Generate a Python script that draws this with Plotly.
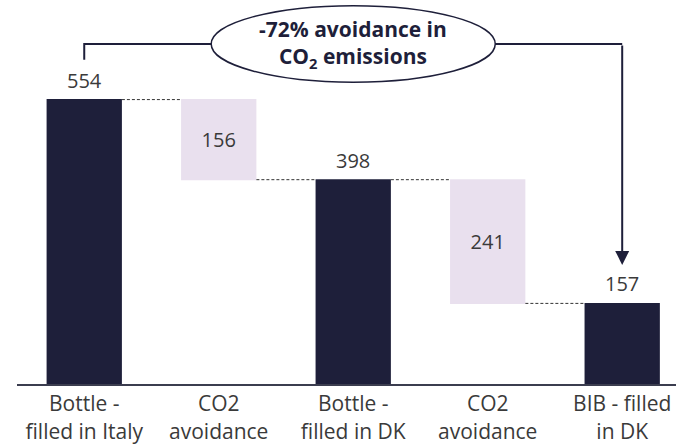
import plotly.graph_objects as go

# Data
categories = ["Bottle -<br>filled in Italy", "CO2<br>avoidance", "Bottle -<br>filled in DK",
              "CO2<br>avoidance", "BIB - filled<br>in DK"]
values = [554, -156, 398, -241, 157]
measures = ["absolute", "relative", "total", "relative", "total"]

NAVY = "#1e1f3a"
LAVENDER = "#e9e0ee"
TEXT = "#3a3a3a"
FONT = "Open Sans, sans-serif"

xpos = list(range(len(categories)))

# Running level of each bar (top of the solid bars)
levels = []
running = 0
for v, m in zip(values, measures):
    if m == "absolute":
        running = v
    elif m == "relative":
        running += v
    levels.append(running)

# Only the floating (relative) bars carry their label inside the bar
inner_labels = [str(abs(v)) if m == "relative" else "" for v, m in zip(values, measures)]

fig = go.Figure(go.Waterfall(
    x=xpos,
    y=values,
    measure=measures,
    text=inner_labels,
    texttemplate="%{text}",
    textposition="inside",
    insidetextanchor="middle",
    insidetextfont=dict(family=FONT, size=20, color=TEXT),
    constraintext="none",
    cliponaxis=False,
    increasing=dict(marker=dict(color=NAVY)),
    decreasing=dict(marker=dict(color=LAVENDER)),
    totals=dict(marker=dict(color=NAVY)),
    connector=dict(mode="between", line=dict(color="#333333", width=1, dash="3px,2px")),
    hoverinfo="skip",
))

# Value labels above the solid bars
for x, lvl, m in zip(xpos, levels, measures):
    if m != "relative":
        fig.add_annotation(x=x, y=lvl, xref="x", yref="y", text=str(lvl),
                           showarrow=False, yanchor="bottom", yshift=4,
                           font=dict(family=FONT, size=20, color=TEXT))

# Bracket from the first to the last bar, with the summary ellipse on top
bracket_y = 662.5
left_start = 631.5
arrow_tip = 232
fig.add_shape(type="path",
              path=f"M {xpos[0]},{left_start} L {xpos[0]},{bracket_y} L {xpos[-1]},{bracket_y}",
              xref="x", yref="y", line=dict(color=NAVY, width=2))
fig.add_annotation(x=xpos[-1], y=arrow_tip, ax=xpos[-1], ay=bracket_y,
                   xref="x", yref="y", axref="x", ayref="y",
                   showarrow=True, arrowhead=2, arrowsize=1.4, arrowwidth=2,
                   arrowcolor=NAVY, text="")
fig.add_shape(type="circle", xref="x", yref="y",
              x0=2 - 1.056, x1=2 + 1.056, y0=588, y1=737,
              line=dict(color=NAVY, width=1.5), fillcolor="white", layer="above")
fig.add_annotation(x=2, y=bracket_y, xref="x", yref="y", showarrow=False,
                   text="<b>-72% avoidance in<br>CO<sub>2</sub> emissions</b>",
                   font=dict(family=FONT, size=21, color=NAVY))

fig.update_layout(
    width=676, height=445,
    margin=dict(l=17, r=0, t=0, b=59),
    paper_bgcolor="white", plot_bgcolor="white",
    showlegend=False,
    waterfallgap=0.44,
    font=dict(family=FONT, size=20, color=TEXT),
    xaxis=dict(range=[-0.5, 4.4], tickvals=xpos, ticktext=categories,
               showline=True, linecolor="#3b3d4f", linewidth=2,
               showgrid=False, zeroline=False, ticks="",
               tickfont=dict(family=FONT, size=21, color=TEXT)),
    yaxis=dict(range=[0, 748], visible=False, showgrid=False, zeroline=False),
)

fig.write_html("out.html")
